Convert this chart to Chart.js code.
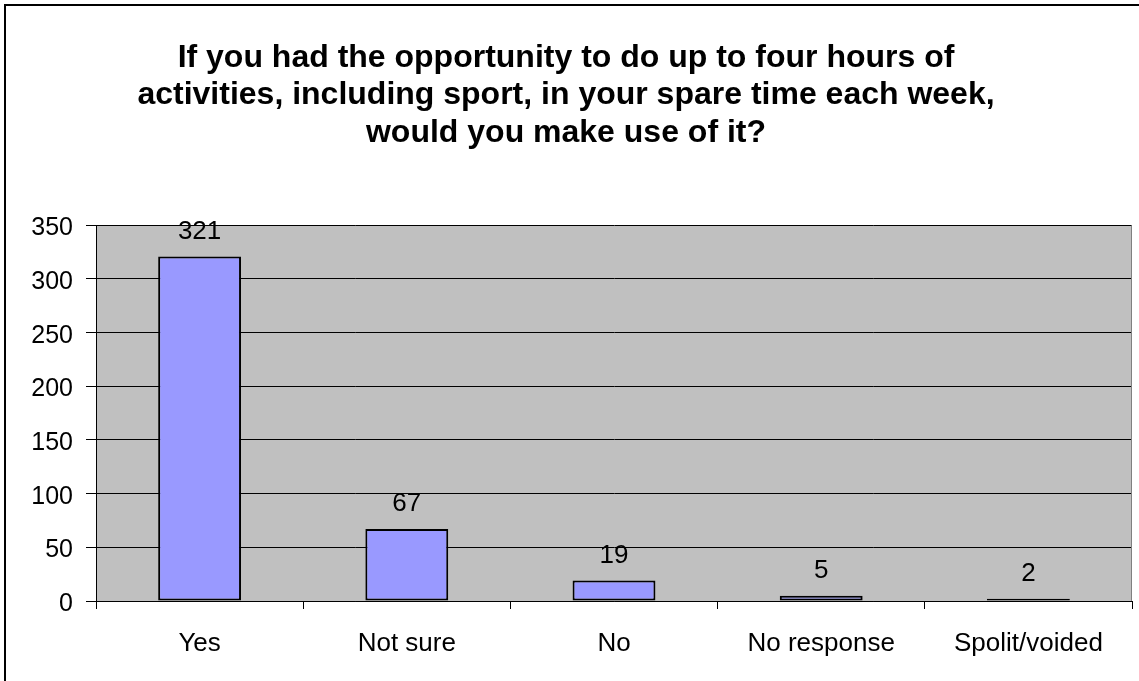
<!DOCTYPE html>
<html>
<head>
<meta charset="utf-8">
<script src="https://cdn.jsdelivr.net/npm/chart.js@4/dist/chart.umd.min.js"></script>
<style>
  html, body { margin: 0; padding: 0; background: #fff; overflow: hidden; }
  #wrap { width: 1139px; height: 681px; position: relative; }
</style>
</head>
<body>
<div id="wrap"><canvas id="chart" width="1139" height="681"></canvas></div>
<script>
const titleLines = [
    'If you had the opportunity to do up to four hours of',
    'activities, including sport, in your spare time each week,',
    'would you make use of it?'
];
const categories = ['Yes', 'Not sure', 'No', 'No response', 'Spolit/voided'];
const responses = [321, 67, 19, 5, 2];
const yTicks = [0, 50, 100, 150, 200, 250, 300, 350];

const FONT = "'Liberation Sans', Arial, sans-serif";

// gray plot area + right edge, outer frame
const plotBackground = {
    id: 'plotBackground',
    beforeDraw(chart) {
        const { ctx, chartArea: a } = chart;
        ctx.save();
        ctx.fillStyle = '#C0C0C0';
        ctx.fillRect(a.left, a.top, a.right - a.left, a.bottom - a.top);
        ctx.restore();
    },
    afterDraw(chart) {
        const { ctx, chartArea: a } = chart;
        ctx.save();
        ctx.strokeStyle = '#808080';
        ctx.lineWidth = 1;
        ctx.beginPath();
        ctx.moveTo(a.right - 0.5, a.top);
        ctx.lineTo(a.right - 0.5, a.bottom);
        ctx.stroke();
        // outer chart frame (only top/left visible)
        ctx.strokeStyle = '#000';
        ctx.lineWidth = 2;
        ctx.beginPath();
        ctx.moveTo(5, chart.height + 5);
        ctx.lineTo(5, 5);
        ctx.lineTo(chart.width + 5, 5);
        ctx.stroke();
        ctx.restore();
    }
};

// value labels above the bars
const valueLabels = {
    id: 'valueLabels',
    afterDatasetsDraw(chart) {
        const { ctx } = chart;
        const meta = chart.getDatasetMeta(0);
        ctx.save();
        ctx.font = '26px ' + FONT;
        ctx.fillStyle = '#000';
        ctx.textAlign = 'center';
        ctx.textBaseline = 'middle';
        meta.data.forEach((bar, i) => {
            ctx.fillText(String(responses[i]), bar.x, bar.y - 25);
        });
        ctx.restore();
    }
};

new Chart(document.getElementById('chart'), {
    type: 'bar',
    data: {
        labels: categories,
        datasets: [{
            data: responses,
            backgroundColor: '#9999FF',
            borderColor: '#000',
            borderWidth: 2,
            borderSkipped: false,
            categoryPercentage: 1,
            barPercentage: 0.4
        }]
    },
    options: {
        responsive: false,
        animation: false,
        events: [],
        layout: { padding: { left: 0, right: 7, top: 0, bottom: 0 } },
        plugins: {
            legend: { display: false },
            tooltip: { enabled: false },
            title: {
                display: true,
                text: titleLines,
                color: '#000',
                font: { family: FONT, size: 32, weight: 'bold', lineHeight: 1.18 },
                padding: { top: 39, bottom: 73 }
            }
        },
        scales: {
            x: {
                grid: {
                    offset: true,
                    drawOnChartArea: false,
                    color: '#000',
                    tickLength: 8
                },
                border: { color: '#000', width: 1 },
                ticks: {
                    color: '#000',
                    font: { family: FONT, size: 26 },
                    padding: 19,
                    maxRotation: 0
                },
                afterFit(scale) { scale.height = 80; }
            },
            y: {
                min: 0,
                max: 350,
                grid: {
                    color: '#000',
                    tickColor: '#000',
                    tickLength: 10
                },
                border: { color: '#000', width: 1 },
                afterBuildTicks(scale) {
                    scale.ticks = yTicks.map(v => ({ value: v }));
                },
                ticks: {
                    color: '#000',
                    font: { family: FONT, size: 25 },
                    padding: 13,
                    labelOffset: 3
                },
                afterFit(scale) { scale.width = 96; }
            }
        }
    },
    plugins: [plotBackground, valueLabels]
});
</script>
</body>
</html>
